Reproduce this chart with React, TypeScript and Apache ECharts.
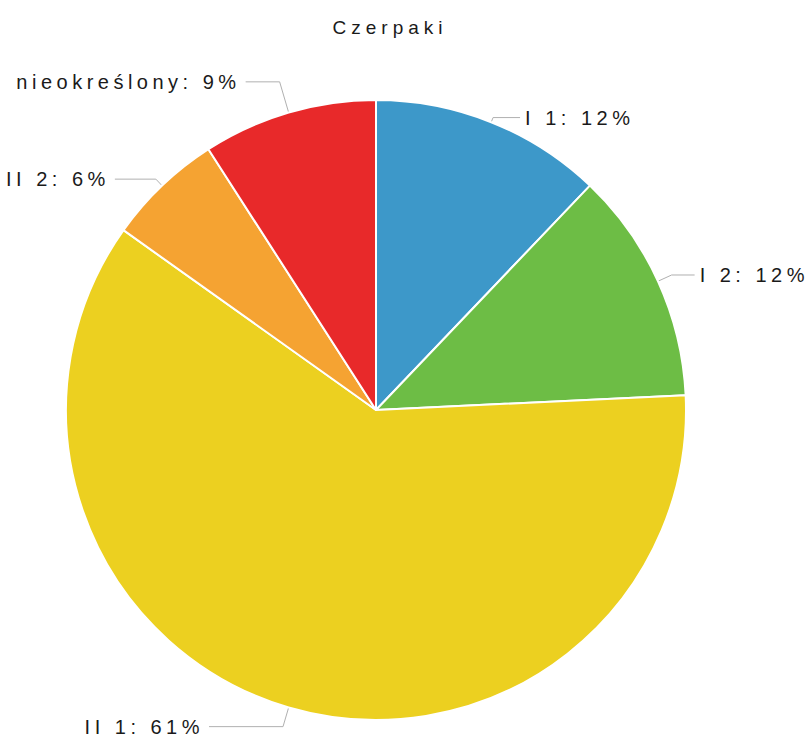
import React, { useEffect, useRef } from "react";
import * as echarts from "echarts";

const titleText = "Czerpaki";
const categories = ["I 1", "I 2", "II 1", "II 2", "nieokreślony"];
const counts = [4, 4, 20, 2, 3];
const colors = ["#3d98c9", "#6dbd45", "#ecd020", "#f5a332", "#e8292a"];
// per-slice leader line lengths (radial, horizontal)
const lineLen1 = [5, 15, 20, 9, 32];
const lineLen2 = [27, 23, 74, 41, 34];

export default function App() {
  const ref = useRef<HTMLDivElement>(null);
  useEffect(() => {
    document.body.style.margin = "0";
    const el = ref.current!;
    const chart = echarts.init(el, undefined, { renderer: "svg" });
    const total = counts.reduce((a, b) => a + b, 0);
    chart.setOption({
      animation: false,
      backgroundColor: "#ffffff",
      title: {
        text: titleText,
        left: 385,
        top: 13,
        textAlign: "center",
        textStyle: {
          fontFamily: "Liberation Sans, Arial, sans-serif",
          fontSize: 19,
          fontWeight: "normal",
          color: "#1a1a1a",
        },
      },
      series: [
        {
          type: "pie",
          center: [376, 410],
          radius: 310,
          startAngle: 90,
          clockwise: true,
          avoidLabelOverlap: false,
          itemStyle: { borderColor: "#ffffff", borderWidth: 2 },
          label: {
            show: true,
            position: "outside",
            fontFamily: "Liberation Sans, Arial, sans-serif",
            fontSize: 20,
            color: "#1a1a1a",
            distanceToLabelLine: 5,
            formatter: (p: any) =>
              `${p.name}: ${Math.round((p.value / total) * 100)}%`,
          },
          labelLine: {
            show: true,
            lineStyle: { color: "#b0b0b0", width: 1 },
          },
          data: categories.map((name, i) => ({
            name,
            value: counts[i],
            itemStyle: { color: colors[i] },
            labelLine: { length: lineLen1[i], length2: lineLen2[i] },
          })),
        },
      ],
    });
    el.querySelectorAll("text").forEach((t) => {
      const fs = parseFloat(
        (t.getAttribute("style") || "").match(/font-size:\s*([\d.]+)/)?.[1] ||
          "20"
      );
      t.setAttribute("letter-spacing", fs < 19.5 ? "5" : "4.5");
    });
    return () => chart.dispose();
  }, []);
  return <div ref={ref} style={{ width: 811, height: 739 }} />;
}
